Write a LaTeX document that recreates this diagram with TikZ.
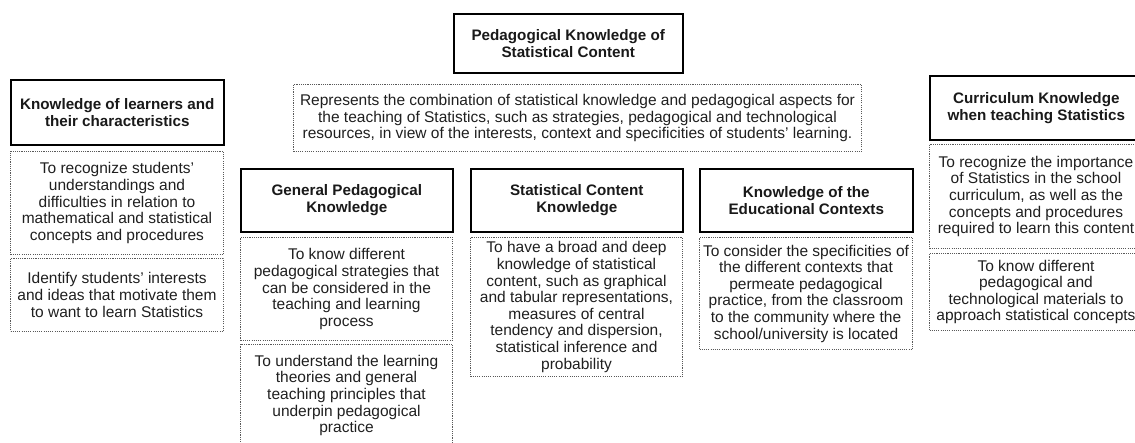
\documentclass[tikz,border=0pt]{standalone}
\usepackage{fontspec}
\setmainfont{Liberation Sans}
\begin{document}
\begin{tikzpicture}[x=1pt,y=-1pt,
  headbox/.style={draw=black, line width=1.6pt, fill=white, align=center,
    inner sep=0pt, anchor=north west, text=black!90,
    font=\bfseries\fontsize{15.2}{17.2}\selectfont},
  notebox/.style={draw=black!65, line width=1pt, dash pattern=on 1.1pt off 1.1pt,
    align=center, inner sep=0pt, anchor=north west, text=black!88,
    font=\fontsize{15.5}{16.6}\selectfont},
  boxsize/.style 2 args={minimum width=#1, minimum height=#2}]
\useasboundingbox (0,0) rectangle (1135,443);
\clip (0,0) rectangle (1135,443);

% central concept
\node[headbox, boxsize={229}{59}] (pcks) at (453,13)
  {Pedagogical Knowledge of\\Statistical Content};
\node[notebox, boxsize={568}{67}] (pcksd) at (293,84)
  {Represents the combination of statistical knowledge and pedagogical aspects for\\
   the teaching of Statistics, such as strategies, pedagogical and technological\\
   resources, in view of the interests, context and specificities of students' learning.};

% learners
\node[headbox, boxsize={213}{65}] (lrn) at (10,79)
  {Knowledge of learners and\\their characteristics};
\node[notebox, boxsize={213}{103}] (lrn1) at (10,151)
  {To recognize students'\\understandings and\\difficulties in relation to\\
   mathematical and statistical\\concepts and procedures};
\node[notebox, boxsize={213}{73}] (lrn2) at (10,258)
  {Identify students' interests\\and ideas that motivate them\\to want to learn Statistics};

% general pedagogical knowledge
\node[headbox, boxsize={212}{63}] (gpk) at (240,168)
  {General Pedagogical\\Knowledge};
\node[notebox, boxsize={212}{103}] (gpk1) at (240,237)
  {To know different\\pedagogical strategies that\\can be considered in the\\
   teaching and learning\\process};
\node[notebox, boxsize={212}{102}] (gpk2) at (240,344)
  {To understand the learning\\theories and general\\teaching principles that\\
   underpin pedagogical\\practice};

% statistical content knowledge
\node[headbox, boxsize={212}{63}] (sck) at (470,168)
  {Statistical Content\\Knowledge};
\node[notebox, boxsize={212}{139}] (sck1) at (470,237)
  {To have a broad and deep\\knowledge of statistical\\content, such as graphical\\
   and tabular representations,\\measures of central\\tendency and dispersion,\\
   statistical inference and\\probability};

% educational contexts
\node[headbox, boxsize={213}{63}] (kec) at (699,168)
  {Knowledge of the\\Educational Contexts};
\node[notebox, boxsize={213}{112}] (kec1) at (699,237)
  {To consider the specificities of\\the different contexts that\\permeate pedagogical\\
   practice, from the classroom\\to the community where the\\school/university is located};

% curriculum knowledge
\node[headbox, boxsize={213}{64}] (cur) at (929,75)
  {Curriculum Knowledge\\when teaching Statistics};
\node[notebox, boxsize={213}{104}] (cur1) at (929,144)
  {To recognize the importance\\of Statistics in the school\\curriculum, as well as the\\
   concepts and procedures\\required to learn this content};
\node[notebox, boxsize={213}{77}] (cur2) at (929,253)
  {To know different\\pedagogical and\\technological materials to\\approach statistical concepts};
\end{tikzpicture}
\end{document}
